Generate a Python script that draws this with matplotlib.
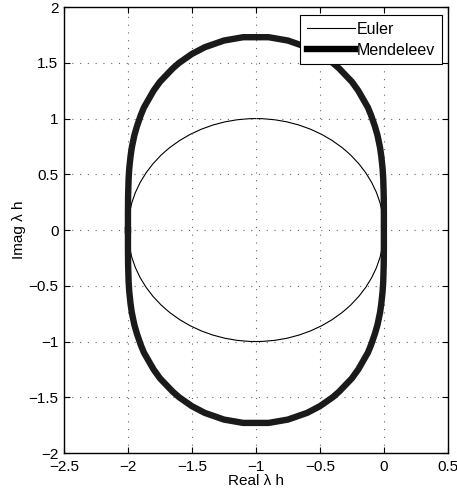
import matplotlib
matplotlib.use("Agg")
import matplotlib.pyplot as plt
from matplotlib.patches import Circle
from matplotlib.lines import Line2D

plt.rcParams['font.family'] = ['Liberation Sans', 'DejaVu Sans']

# Euler stability region: circle
euler_center = (-1.0, 0.0)
euler_radius = 1.0

# Mendeleev stability boundary, upper half
mend_x = [-2.0, -2.0, -1.999, -1.995, -1.99, -1.98, -1.97, -1.95, -1.93, -1.90,
          -1.875, -1.85, -1.825, -1.80, -1.75, -1.70, -1.65, -1.60, -1.55, -1.50,
          -1.45, -1.40, -1.35, -1.30, -1.25, -1.20, -1.15, -1.10, -1.05, -1.0,
          -0.95, -0.90, -0.85, -0.80, -0.75, -0.70, -0.65, -0.60, -0.55, -0.50,
          -0.45, -0.40, -0.35, -0.30, -0.25, -0.20, -0.175, -0.15, -0.125, -0.10,
          -0.07, -0.05, -0.03, -0.02, -0.01, -0.005, -0.001, 0.0, 0.0]
mend_y = [0.0, 0.15, 0.30, 0.46, 0.55, 0.66, 0.74, 0.85, 0.93, 1.03,
          1.10, 1.15, 1.20, 1.25, 1.33, 1.39, 1.45, 1.50, 1.54, 1.58,
          1.61, 1.64, 1.66, 1.68, 1.70, 1.71, 1.72, 1.73, 1.73, 1.73,
          1.73, 1.73, 1.72, 1.71, 1.70, 1.68, 1.66, 1.64, 1.61, 1.58,
          1.54, 1.50, 1.45, 1.39, 1.33, 1.25, 1.20, 1.15, 1.10, 1.03,
          0.93, 0.85, 0.74, 0.66, 0.55, 0.46, 0.30, 0.15, 0.0]

x_ticks = [-2.5, -2, -1.5, -1, -0.5, 0, 0.5]
y_ticks = [-2, -1.5, -1, -0.5, 0, 0.5, 1, 1.5, 2]

# closed curve: upper half then mirrored lower half
full_x = mend_x + mend_x[::-1]
full_y = mend_y + [-v for v in mend_y[::-1]]

fig = plt.figure(figsize=(4.57, 5.01), dpi=100)
ax = fig.add_axes([0.140, 0.0958, 0.840, 0.890])

circ = Circle(euler_center, euler_radius, fill=False, edgecolor='black', lw=0.8)
ax.add_patch(circ)
ax.plot(full_x, full_y, color='#1a1a1a', lw=4.6, solid_joinstyle='round')

ax.set_xlim(-2.5, 0.5)
ax.set_ylim(-2, 2)
ax.set_xticks(x_ticks)
ax.set_yticks(y_ticks)
ax.set_xticklabels(['−2.5', '−2', '−1.5', '−1', '−0.5', '0', '0.5'])
ax.set_yticklabels(['−2', '−1.5', '−1', '−0.5', '0', '0.5', '1', '1.5', '2'])
ax.tick_params(direction='in', length=4, width=0.8, top=True, right=True,
               labelsize=11, colors='black')
ax.tick_params(axis='x', pad=5)
ax.tick_params(axis='y', pad=4)
ax.grid(True, color='#666666', linestyle=(0, (1, 6)), linewidth=0.8)
for s in ax.spines.values():
    s.set_linewidth(1.0)

ax.set_xlabel('Real λ h', fontsize=11, labelpad=0)
ax.set_ylabel('Imag λ h', fontsize=11, labelpad=2)

handles = [Line2D([], [], color='black', lw=0.8, label='Euler'),
           Line2D([], [], color='black', lw=4.6, label='Mendeleev')]
leg = ax.legend(handles=handles, loc='upper right', bbox_to_anchor=(0.984, 0.982),
                borderaxespad=0, fancybox=False, edgecolor='black', framealpha=1,
                fontsize=11.5, handlelength=3.0, handletextpad=0.15,
                borderpad=0.4, labelspacing=0.4)
leg.get_frame().set_linewidth(0.8)

fig.savefig('out.png', dpi=100)
